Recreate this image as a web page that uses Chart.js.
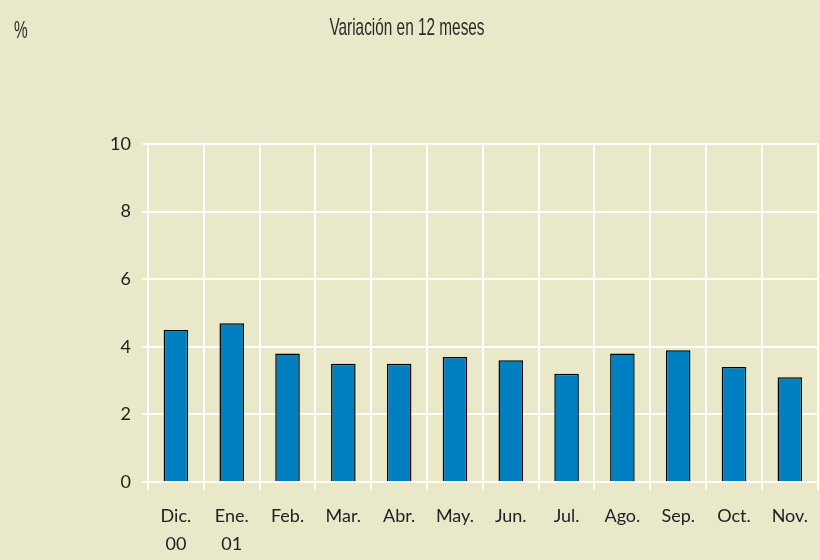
<!DOCTYPE html>
<html>
<head>
    <title>Variación en 12 meses</title>
    <style>
        html, body { margin: 0; padding: 0; background: #e9e8c9; }
        #wrap { width: 820px; height: 560px; position: relative; }
    </style>
</head>
<body>
    <div id="wrap">
        <canvas id="variacion" width="820" height="560"></canvas>
    </div>

    <script src="https://cdn.jsdelivr.net/npm/chart.js@4.4.1/dist/chart.umd.min.js"></script>
    <script>
        // monthly labels (two lines for the year change)
        const meses = [['Dic.', '00'], ['Ene.', '01'], 'Feb.', 'Mar.', 'Abr.', 'May.',
                       'Jun.', 'Jul.', 'Ago.', 'Sep.', 'Oct.', 'Nov.'];
        // 12-month variation, %
        const variacion = [4.5, 4.7, 3.8, 3.5, 3.5, 3.7, 3.6, 3.2, 3.8, 3.9, 3.4, 3.1];
        const yTicks = [0, 2, 4, 6, 8, 10];

        const textColor = '#222';

        // heading and unit in a narrow face, squeezed horizontally
        function narrowText(ctx, text, x, y, align) {
            const squeeze = 0.64;
            const w = ctx.measureText(text).width * squeeze;
            const left = align === 'center' ? x - w / 2 : x;
            ctx.save();
            ctx.translate(left, y);
            ctx.scale(squeeze, 1);
            ctx.textAlign = 'left';
            ctx.fillText(text, 0, 0);
            ctx.restore();
        }

        const headings = {
            id: 'headings',
            afterDraw(chart) {
                const ctx = chart.ctx;
                ctx.save();
                ctx.fillStyle = '#2a2a2a';
                ctx.font = '24px "Liberation Sans", Arial, sans-serif';
                ctx.textBaseline = 'alphabetic';
                narrowText(ctx, 'Variación en 12 meses', 407, 35, 'center');
                narrowText(ctx, '%', 14, 38, 'left');
                ctx.restore();
            }
        };

        const ctx = document.getElementById('variacion').getContext('2d');
        new Chart(ctx, {
            type: 'bar',
            data: {
                labels: meses,
                datasets: [{
                    data: variacion,
                    backgroundColor: '#0080c0',
                    borderColor: '#000',
                    borderWidth: 1.5,
                    barPercentage: 0.44,
                    categoryPercentage: 1
                }]
            },
            options: {
                responsive: false,
                animation: false,
                layout: { padding: { top: 144, left: 0, right: 0, bottom: 0 } },
                plugins: {
                    legend: { display: false },
                    tooltip: { enabled: false }
                },
                scales: {
                    x: {
                        grid: { color: '#fff', lineWidth: 2, offset: true, tickLength: 8 },
                        border: { color: '#fff', width: 2 },
                        ticks: {
                            color: textColor,
                            padding: 12,
                            maxRotation: 0,
                            autoSkip: false,
                            font: { family: 'Lato', size: 18, lineHeight: 1.56 }
                        },
                        afterFit(scale) { scale.height = 78; }
                    },
                    y: {
                        min: 0,
                        max: 10,
                        afterBuildTicks(scale) { scale.ticks = yTicks.map(v => ({ value: v })); },
                        grid: { color: '#fff', lineWidth: 2, tickLength: 6 },
                        border: { color: '#fff', width: 2 },
                        ticks: {
                            color: textColor,
                            padding: 11,
                            font: { family: 'Lato', size: 18 }
                        },
                        afterFit(scale) { scale.width = 148; }
                    }
                }
            },
            plugins: [headings]
        });
    </script>
</body>
</html>
